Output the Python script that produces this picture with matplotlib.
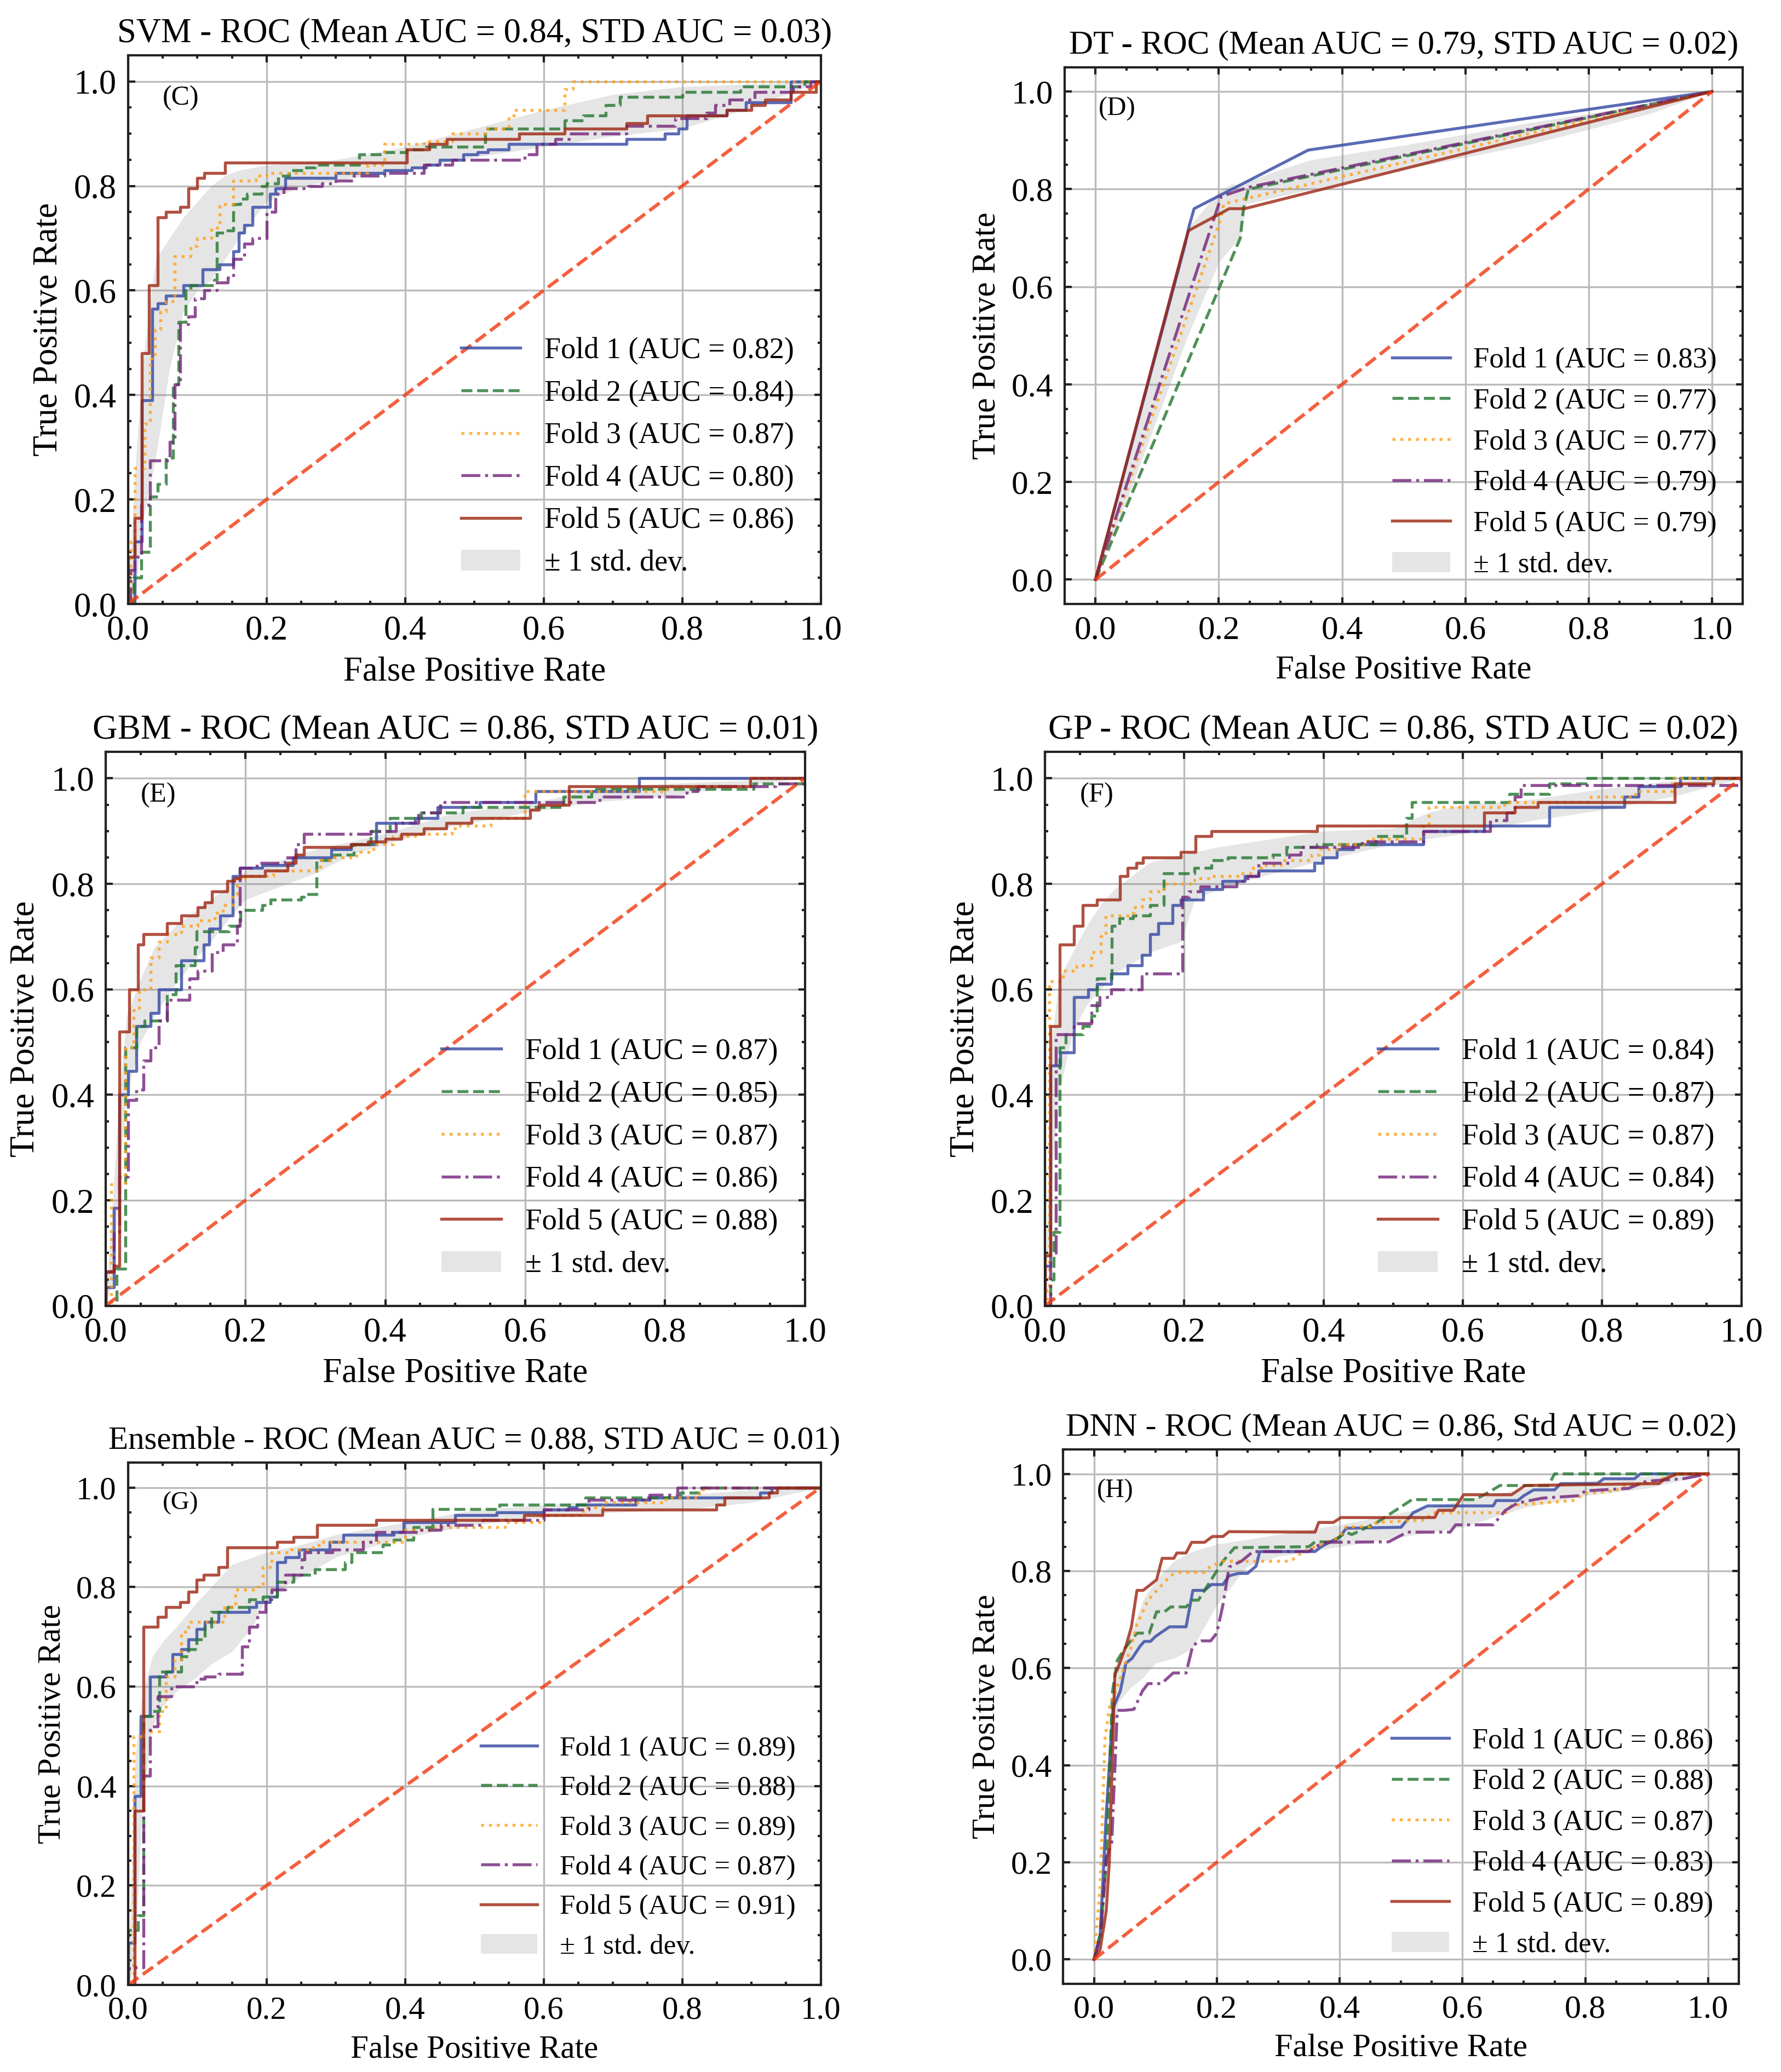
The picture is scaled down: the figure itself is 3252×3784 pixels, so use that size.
import matplotlib
matplotlib.use("Agg")
import matplotlib.pyplot as plt
from matplotlib.ticker import AutoMinorLocator, MultipleLocator

plt.rcParams["font.family"] = ["Liberation Serif", "DejaVu Serif"]
plt.rcParams["mathtext.fontset"] = "stix"

FOLD_COLORS = ["#3246A3", "#23762E", "#FFA019", "#722379", "#9C2410"]
FOLD_STYLES = ["-", "--", ":", "-.", "-"]

# ---------------- SVM (C) ----------------
SVM_AUC = [0.82, 0.84, 0.87, 0.80, 0.86]
SVM_FPR = [
    [0, 0.01, 0.02, 0.035, 0.043, 0.055, 0.08, 0.108, 0.132, 0.152, 0.16, 0.168, 0.18, 0.205, 0.213,
     0.227, 0.30, 0.37, 0.41, 0.43, 0.45, 0.484, 0.505, 0.52, 0.55, 0.72, 0.775, 0.795, 0.807, 0.864,
     0.892, 0.957, 1.0],
    [0, 0.008, 0.019, 0.032, 0.043, 0.055, 0.065, 0.073, 0.083, 0.09, 0.124, 0.128, 0.14, 0.152, 0.162,
     0.172, 0.193, 0.2, 0.217, 0.233, 0.253, 0.27, 0.334, 0.37, 0.403, 0.43, 0.516, 0.63, 0.657, 0.69,
     0.71, 0.8, 0.884, 0.977, 1.0],
    [0, 0.004, 0.01, 0.024, 0.032, 0.039, 0.047, 0.055, 0.067, 0.09, 0.10, 0.12, 0.132, 0.152, 0.184,
     0.2, 0.346, 0.37, 0.427, 0.468, 0.516, 0.55, 0.557, 0.63, 0.642, 1.0],
    [0, 0.003, 0.01, 0.019, 0.032, 0.06, 0.067, 0.075, 0.087, 0.097, 0.11, 0.128, 0.144, 0.152, 0.168,
     0.18, 0.2, 0.213, 0.225, 0.26, 0.28, 0.30, 0.326, 0.37, 0.427, 0.468, 0.573, 0.59, 0.617, 0.637,
     0.72, 0.79, 0.835, 0.848, 0.868, 0.905, 0.96, 0.985, 1.0],
    [0, 0, 0.01, 0.02, 0.03, 0.043, 0.055, 0.075, 0.087, 0.10, 0.11, 0.14, 0.403, 0.435, 0.46, 0.565,
     0.63, 0.72, 0.75, 0.864, 0.90, 0.92, 0.957, 0.993, 1.0],
]
SVM_TPR = [
    [0, 0.12, 0.39, 0.565, 0.575, 0.59, 0.61, 0.64, 0.65, 0.675, 0.71, 0.725, 0.76, 0.785, 0.795,
     0.815, 0.825, 0.83, 0.835, 0.84, 0.85, 0.86, 0.865, 0.87, 0.88, 0.89, 0.90, 0.91, 0.935, 0.945,
     0.96, 1.0, 1.0],
    [0, 0.05, 0.10, 0.205, 0.23, 0.28, 0.42, 0.54, 0.60, 0.61, 0.62, 0.71, 0.715, 0.765, 0.775,
     0.785, 0.80, 0.805, 0.82, 0.83, 0.835, 0.84, 0.86, 0.865, 0.87, 0.875, 0.91, 0.925, 0.935, 0.955,
     0.97, 0.98, 0.99, 1.0, 1.0],
    [0, 0.12, 0.26, 0.345, 0.47, 0.525, 0.56, 0.58, 0.665, 0.685, 0.70, 0.72, 0.765, 0.81, 0.82,
     0.825, 0.84, 0.88, 0.885, 0.90, 0.91, 0.93, 0.945, 0.985, 1.0, 1.0],
    [0, 0.065, 0.09, 0.19, 0.275, 0.31, 0.42, 0.535, 0.55, 0.585, 0.60, 0.615, 0.625, 0.66, 0.69,
     0.70, 0.75, 0.785, 0.795, 0.80, 0.805, 0.81, 0.82, 0.825, 0.84, 0.85, 0.86, 0.88, 0.89, 0.90,
     0.915, 0.93, 0.94, 0.955, 0.965, 0.98, 0.99, 1.0, 1.0],
    [0, 0.09, 0.165, 0.48, 0.61, 0.74, 0.75, 0.76, 0.795, 0.815, 0.825, 0.845, 0.87, 0.88, 0.89, 0.90,
     0.91, 0.92, 0.935, 0.945, 0.955, 0.965, 0.98, 1.0, 1.0],
]
SVM_BAND_X = [0, 0.01, 0.02, 0.04, 0.06, 0.08, 0.10, 0.12, 0.14, 0.16, 0.20, 0.25, 0.30, 0.40, 0.50,
              0.60, 0.70, 0.80, 0.90, 1.0]
SVM_BAND_UP = [0, 0.25, 0.45, 0.66, 0.70, 0.74, 0.77, 0.80, 0.82, 0.83, 0.84, 0.845, 0.85, 0.875, 0.91,
               0.945, 0.975, 0.99, 0.995, 1.0]
SVM_BAND_LO = [0, 0.0, 0.15, 0.28, 0.45, 0.56, 0.60, 0.62, 0.66, 0.70, 0.77, 0.80, 0.81, 0.83, 0.855,
               0.875, 0.895, 0.91, 0.95, 1.0]

# ---------------- DT (D) ----------------
DT_AUC = [0.83, 0.77, 0.77, 0.79, 0.79]
DT_FPR = [
    [0, 0.145, 0.152, 0.16, 0.345, 1.0],
    [0, 0.235, 0.24, 0.248, 1.0],
    [0, 0.204, 0.208, 1.0],
    [0, 0.204, 0.249, 1.0],
    [0, 0.145, 0.151, 0.217, 0.242, 1.0],
]
DT_TPR = [
    [0, 0.685, 0.725, 0.76, 0.88, 1.0],
    [0, 0.70, 0.76, 0.80, 1.0],
    [0, 0.742, 0.77, 1.0],
    [0, 0.785, 0.804, 1.0],
    [0, 0.69, 0.715, 0.76, 0.76, 1.0],
]
DT_BAND_X = [0, 0.05, 0.10, 0.15, 0.20, 0.22, 0.235, 0.245, 0.30, 0.35, 0.50, 0.70, 0.90, 1.0]
DT_BAND_UP = [0, 0.24, 0.48, 0.72, 0.795, 0.81, 0.81, 0.815, 0.84, 0.86, 0.89, 0.935, 0.975, 1.0]
DT_BAND_LO = [0, 0.16, 0.33, 0.50, 0.65, 0.68, 0.70, 0.77, 0.785, 0.80, 0.84, 0.89, 0.955, 1.0]

# ---------------- GBM (E) ----------------
GBM_AUC = [0.87, 0.85, 0.87, 0.86, 0.88]
GBM_FPR = [
    [0, 0, 0.012, 0.02, 0.032, 0.044, 0.064, 0.076, 0.108, 0.14, 0.148, 0.164, 0.182, 0.192, 0.224,
     0.268, 0.323, 0.351, 0.387, 0.443, 0.475, 0.535, 0.615, 0.763, 1.0],
    [0, 0.016, 0.028, 0.044, 0.056, 0.088, 0.10, 0.128, 0.13, 0.176, 0.193, 0.224, 0.236, 0.28, 0.284,
     0.302, 0.327, 0.355, 0.379, 0.407, 0.451, 0.511, 0.655, 0.695, 0.927, 1.0],
    [0, 0.008, 0.028, 0.04, 0.048, 0.064, 0.076, 0.088, 0.108, 0.132, 0.156, 0.168, 0.182, 0.188, 0.20,
     0.24, 0.307, 0.327, 0.359, 0.383, 0.411, 0.443, 0.495, 0.50, 0.551, 0.599, 0.803, 0.922, 1.0],
    [0, 0, 0.012, 0.02, 0.032, 0.044, 0.054, 0.064, 0.076, 0.088, 0.12, 0.132, 0.152, 0.168, 0.188,
     0.192, 0.216, 0.256, 0.272, 0.284, 0.379, 0.415, 0.447, 0.479, 0.707, 0.831, 0.847, 0.958, 1.0],
    [0, 0, 0.012, 0.02, 0.034, 0.046, 0.054, 0.088, 0.108, 0.132, 0.142, 0.152, 0.174, 0.184, 0.193,
     0.228, 0.26, 0.272, 0.284, 0.351, 0.375, 0.40, 0.423, 0.455, 0.487, 0.523, 0.607, 0.62, 0.663,
     0.922, 1.0],
]
GBM_TPR = [
    [0, 0.035, 0.185, 0.40, 0.445, 0.53, 0.555, 0.60, 0.655, 0.685, 0.715, 0.74, 0.815, 0.83, 0.835,
     0.85, 0.865, 0.875, 0.915, 0.925, 0.945, 0.955, 0.975, 1.0, 1.0],
    [0, 0.07, 0.49, 0.53, 0.54, 0.59, 0.645, 0.68, 0.71, 0.72, 0.75, 0.76, 0.77, 0.775, 0.78, 0.845,
     0.855, 0.875, 0.90, 0.925, 0.935, 0.945, 0.965, 0.98, 0.99, 1.0],
    [0, 0.23, 0.49, 0.56, 0.60, 0.66, 0.69, 0.705, 0.72, 0.73, 0.745, 0.76, 0.78, 0.81, 0.815, 0.825,
     0.845, 0.85, 0.86, 0.875, 0.89, 0.895, 0.905, 0.91, 0.925, 0.975, 0.985, 1.0, 1.0],
    [0, 0.065, 0.14, 0.245, 0.39, 0.41, 0.465, 0.49, 0.54, 0.58, 0.62, 0.635, 0.67, 0.685, 0.72, 0.83,
     0.84, 0.85, 0.875, 0.895, 0.90, 0.915, 0.935, 0.955, 0.965, 0.975, 0.985, 0.99, 1.0],
    [0, 0.064, 0.075, 0.52, 0.60, 0.685, 0.705, 0.725, 0.74, 0.755, 0.765, 0.785, 0.805, 0.81, 0.815,
     0.825, 0.84, 0.855, 0.87, 0.875, 0.88, 0.885, 0.895, 0.905, 0.915, 0.925, 0.94, 0.95, 0.985,
     1.0, 1.0],
]
GBM_BAND_X = [0, 0.01, 0.02, 0.03, 0.05, 0.07, 0.10, 0.13, 0.15, 0.18, 0.20, 0.25, 0.30, 0.35, 0.40,
              0.45, 0.50, 0.60, 0.70, 0.80, 0.90, 1.0]
GBM_BAND_UP = [0, 0.20, 0.40, 0.55, 0.62, 0.68, 0.72, 0.75, 0.77, 0.80, 0.825, 0.845, 0.865, 0.88, 0.895,
               0.915, 0.935, 0.95, 0.98, 0.99, 0.995, 1.0]
GBM_BAND_LO = [0, 0.05, 0.25, 0.40, 0.50, 0.55, 0.61, 0.66, 0.69, 0.74, 0.77, 0.795, 0.82, 0.855, 0.875,
               0.895, 0.91, 0.935, 0.955, 0.965, 0.985, 1.0]

# ---------------- GP (F) ----------------
GP_AUC = [0.84, 0.87, 0.87, 0.84, 0.89]
GP_FPR = [
    [0, 0, 0.008, 0.022, 0.042, 0.062, 0.075, 0.095, 0.119, 0.139, 0.151, 0.163, 0.183, 0.195, 0.227,
     0.255, 0.287, 0.307, 0.387, 0.399, 0.419, 0.443, 0.543, 0.631, 0.724, 0.832, 0.852, 0.912, 1.0],
    [0, 0.008, 0.013, 0.021, 0.03, 0.054, 0.067, 0.075, 0.096, 0.107, 0.127, 0.151, 0.171, 0.215, 0.239,
     0.263, 0.327, 0.347, 0.391, 0.475, 0.519, 0.527, 0.667, 0.724, 0.776, 1.0],
    [0, 0.003, 0.006, 0.026, 0.046, 0.067, 0.08, 0.087, 0.127, 0.139, 0.151, 0.171, 0.215, 0.239, 0.279,
     0.299, 0.311, 0.339, 0.383, 0.395, 0.423, 0.463, 0.543, 0.551, 0.66, 0.784, 0.848, 0.90, 1.0],
    [0, 0.008, 0.016, 0.042, 0.067, 0.079, 0.095, 0.139, 0.143, 0.195, 0.197, 0.207, 0.223, 0.275, 0.291,
     0.307, 0.351, 0.367, 0.455, 0.543, 0.639, 0.663, 0.675, 0.683, 1.0],
    [0, 0, 0.008, 0.021, 0.042, 0.054, 0.075, 0.108, 0.119, 0.131, 0.141, 0.195, 0.216, 0.239, 0.391,
     0.631, 0.675, 0.708, 0.904, 0.96, 1.0],
]
GP_TPR = [
    [0, 0.075, 0.455, 0.48, 0.585, 0.60, 0.61, 0.63, 0.645, 0.665, 0.705, 0.725, 0.76, 0.77, 0.79,
     0.805, 0.815, 0.825, 0.84, 0.85, 0.865, 0.875, 0.90, 0.91, 0.945, 0.965, 0.985, 1.0, 1.0],
    [0, 0.05, 0.14, 0.49, 0.515, 0.53, 0.55, 0.62, 0.72, 0.735, 0.74, 0.76, 0.82, 0.83, 0.845, 0.85,
     0.855, 0.87, 0.875, 0.89, 0.925, 0.955, 0.97, 0.99, 1.0, 1.0],
    [0, 0.03, 0.615, 0.635, 0.645, 0.67, 0.70, 0.74, 0.755, 0.77, 0.785, 0.80, 0.81, 0.815, 0.82, 0.83,
     0.835, 0.845, 0.855, 0.865, 0.875, 0.885, 0.91, 0.945, 0.955, 0.965, 0.975, 1.0, 1.0],
    [0, 0.10, 0.515, 0.535, 0.57, 0.585, 0.60, 0.625, 0.63, 0.635, 0.775, 0.785, 0.795, 0.805, 0.815,
     0.84, 0.855, 0.87, 0.88, 0.90, 0.92, 0.935, 0.965, 0.987, 1.0],
    [0, 0.095, 0.53, 0.685, 0.72, 0.76, 0.77, 0.815, 0.83, 0.84, 0.85, 0.86, 0.89, 0.90, 0.91, 0.935,
     0.945, 0.955, 0.99, 1.0, 1.0],
]
GP_BAND_X = [0, 0.01, 0.02, 0.04, 0.06, 0.08, 0.10, 0.12, 0.15, 0.195, 0.215, 0.25, 0.30, 0.40, 0.50,
             0.55, 0.60, 0.70, 0.80, 0.90, 1.0]
GP_BAND_UP = [0, 0.50, 0.62, 0.67, 0.72, 0.76, 0.79, 0.81, 0.84, 0.855, 0.86, 0.87, 0.88, 0.90, 0.905,
              0.935, 0.95, 0.96, 0.98, 0.995, 1.0]
GP_BAND_LO = [0, 0.25, 0.40, 0.52, 0.57, 0.60, 0.63, 0.645, 0.67, 0.69, 0.77, 0.79, 0.81, 0.845, 0.875,
              0.885, 0.895, 0.92, 0.94, 0.965, 1.0]

# ---------------- Ensemble (G) ----------------
ENS_AUC = [0.89, 0.88, 0.89, 0.87, 0.91]
ENS_FPR = [
    [0, 0, 0.01, 0.018, 0.032, 0.055, 0.064, 0.077, 0.087, 0.099, 0.111, 0.131, 0.175, 0.185, 0.205,
     0.215, 0.227, 0.247, 0.291, 0.311, 0.384, 0.398, 0.472, 0.532, 0.60, 0.636, 0.648, 0.733, 0.753,
     0.913, 0.929, 1.0],
    [0, 0, 0.014, 0.022, 0.035, 0.045, 0.063, 0.077, 0.087, 0.099, 0.111, 0.12, 0.143, 0.175, 0.195,
     0.215, 0.239, 0.27, 0.313, 0.323, 0.368, 0.384, 0.412, 0.44, 0.536, 0.66, 0.797, 0.829, 1.0],
    [0, 0.008, 0.022, 0.045, 0.055, 0.067, 0.077, 0.087, 0.139, 0.155, 0.187, 0.195, 0.207, 0.235, 0.263,
     0.275, 0.40, 0.444, 0.544, 0.596, 0.657, 0.685, 0.777, 0.825, 0.83, 1.0],
    [0, 0, 0.008, 0.022, 0.032, 0.043, 0.063, 0.099, 0.111, 0.131, 0.165, 0.175, 0.187, 0.199, 0.207,
     0.227, 0.251, 0.255, 0.295, 0.339, 0.358, 0.42, 0.452, 0.512, 0.60, 0.665, 0.753, 0.793, 1.0],
    [0, 0.01, 0.022, 0.043, 0.055, 0.075, 0.087, 0.099, 0.109, 0.131, 0.143, 0.215, 0.239, 0.273, 0.358,
     0.572, 0.685, 0.849, 0.861, 0.925, 0.937, 1.0],
]
ENS_TPR = [
    [0, 0.085, 0.38, 0.54, 0.62, 0.63, 0.665, 0.675, 0.695, 0.715, 0.73, 0.75, 0.76, 0.77, 0.78, 0.85,
     0.86, 0.875, 0.89, 0.905, 0.91, 0.93, 0.945, 0.95, 0.955, 0.96, 0.965, 0.975, 0.98, 0.99, 1.0, 1.0],
    [0, 0.11, 0.14, 0.54, 0.55, 0.63, 0.63, 0.66, 0.675, 0.695, 0.72, 0.75, 0.76, 0.775, 0.78, 0.81,
     0.825, 0.835, 0.85, 0.87, 0.885, 0.895, 0.92, 0.957, 0.965, 0.98, 0.99, 1.0, 1.0],
    [0, 0.50, 0.51, 0.55, 0.62, 0.655, 0.71, 0.73, 0.76, 0.795, 0.80, 0.84, 0.87, 0.875, 0.88, 0.89,
     0.915, 0.92, 0.93, 0.945, 0.96, 0.97, 0.98, 0.99, 1.0, 1.0],
    [0, 0.033, 0.035, 0.42, 0.52, 0.58, 0.60, 0.615, 0.62, 0.625, 0.68, 0.72, 0.75, 0.775, 0.795, 0.825,
     0.855, 0.87, 0.875, 0.89, 0.91, 0.915, 0.925, 0.935, 0.955, 0.975, 0.985, 1.0, 1.0],
    [0, 0.35, 0.72, 0.74, 0.76, 0.77, 0.79, 0.815, 0.825, 0.84, 0.88, 0.89, 0.90, 0.925, 0.935, 0.945,
     0.955, 0.965, 0.98, 0.99, 1.0, 1.0],
]
ENS_BAND_X = [0, 0.01, 0.02, 0.035, 0.05, 0.07, 0.10, 0.12, 0.15, 0.18, 0.20, 0.25, 0.30, 0.40, 0.50,
              0.60, 0.70, 0.80, 0.90, 1.0]
ENS_BAND_UP = [0, 0.45, 0.58, 0.66, 0.69, 0.72, 0.77, 0.80, 0.845, 0.86, 0.87, 0.885, 0.905, 0.93, 0.955,
               0.965, 0.975, 0.985, 0.995, 1.0]
ENS_BAND_LO = [0, 0.05, 0.35, 0.52, 0.56, 0.59, 0.62, 0.645, 0.67, 0.72, 0.78, 0.82, 0.86, 0.90, 0.925,
               0.94, 0.95, 0.955, 0.97, 1.0]

# ---------------- DNN (H) ----------------
DNN_AUC = [0.86, 0.88, 0.87, 0.83, 0.89]
DNN_FPR = [
    [0, 0.01, 0.02, 0.031, 0.043, 0.052, 0.062, 0.075, 0.082, 0.092, 0.10, 0.123, 0.15, 0.161, 0.18,
     0.191, 0.21, 0.22, 0.235, 0.25, 0.264, 0.27, 0.36, 0.37, 0.40, 0.411, 0.50, 0.52, 0.543, 0.65,
     0.655, 0.69, 0.70, 0.716, 0.75, 0.76, 0.82, 0.83, 0.88, 0.89, 1.0],
    [0, 0.01, 0.02, 0.03, 0.038, 0.05, 0.07, 0.09, 0.102, 0.115, 0.125, 0.15, 0.161, 0.17, 0.20, 0.21,
     0.229, 0.35, 0.36, 0.39, 0.41, 0.42, 0.461, 0.518, 0.62, 0.64, 0.661, 0.74, 0.75, 1.0],
    [0, 0.01, 0.018, 0.025, 0.038, 0.05, 0.06, 0.07, 0.088, 0.11, 0.125, 0.138, 0.18, 0.19, 0.211, 0.32,
     0.341, 0.37, 0.40, 0.411, 0.45, 0.46, 0.54, 0.55, 0.67, 0.68, 0.78, 0.80, 0.85, 0.86, 0.90, 0.95,
     1.0],
    [0, 0.011, 0.02, 0.029, 0.038, 0.05, 0.065, 0.079, 0.088, 0.11, 0.129, 0.15, 0.161, 0.175, 0.19,
     0.20, 0.21, 0.22, 0.24, 0.259, 0.35, 0.36, 0.379, 0.48, 0.51, 0.543, 0.58, 0.589, 0.65, 0.67,
     0.69, 0.73, 0.79, 0.80, 0.87, 0.90, 0.96, 1.0],
    [0, 0.01, 0.02, 0.025, 0.034, 0.038, 0.052, 0.061, 0.07, 0.08, 0.102, 0.111, 0.13, 0.135, 0.15,
     0.159, 0.18, 0.193, 0.21, 0.22, 0.36, 0.366, 0.39, 0.402, 0.555, 0.561, 0.585, 0.602, 0.68, 0.702,
     0.92, 0.93, 0.95, 1.0],
]
DNN_TPR = [
    [0, 0.05, 0.30, 0.517, 0.553, 0.61, 0.62, 0.645, 0.655, 0.655, 0.665, 0.685, 0.685, 0.76, 0.76,
     0.772, 0.772, 0.79, 0.795, 0.795, 0.81, 0.84, 0.84, 0.85, 0.87, 0.888, 0.89, 0.92, 0.934, 0.934,
     0.945, 0.945, 0.955, 0.967, 0.967, 0.98, 0.98, 0.99, 0.99, 1.0, 1.0],
    [0, 0.05, 0.20, 0.55, 0.616, 0.64, 0.672, 0.672, 0.716, 0.716, 0.726, 0.726, 0.74, 0.74, 0.80, 0.82,
     0.848, 0.85, 0.86, 0.86, 0.88, 0.875, 0.90, 0.947, 0.947, 0.96, 0.976, 0.976, 1.0, 1.0],
    [0, 0.15, 0.455, 0.52, 0.561, 0.605, 0.64, 0.69, 0.74, 0.77, 0.791, 0.797, 0.797, 0.81, 0.82, 0.82,
     0.84, 0.855, 0.87, 0.891, 0.891, 0.90, 0.905, 0.92, 0.92, 0.935, 0.945, 0.96, 0.965, 0.975, 0.98,
     1.0, 1.0],
    [0, 0.05, 0.208, 0.241, 0.513, 0.513, 0.515, 0.553, 0.568, 0.568, 0.59, 0.59, 0.647, 0.656, 0.656,
     0.672, 0.73, 0.808, 0.82, 0.84, 0.84, 0.85, 0.859, 0.86, 0.88, 0.88, 0.88, 0.895, 0.895, 0.925,
     0.94, 0.95, 0.955, 0.965, 0.97, 0.985, 0.99, 1.0],
    [0, 0.02, 0.10, 0.20, 0.588, 0.597, 0.645, 0.685, 0.76, 0.76, 0.782, 0.826, 0.826, 0.837, 0.837,
     0.859, 0.859, 0.871, 0.871, 0.881, 0.88, 0.90, 0.90, 0.91, 0.91, 0.925, 0.925, 0.957, 0.957, 0.976,
     0.98, 0.99, 1.0, 1.0],
]
DNN_BAND_X = [0, 0.01, 0.02, 0.03, 0.04, 0.06, 0.08, 0.10, 0.13, 0.16, 0.20, 0.25, 0.30, 0.40, 0.50,
              0.60, 0.70, 0.80, 0.90, 1.0]
DNN_BAND_UP = [0, 0.06, 0.30, 0.57, 0.62, 0.67, 0.74, 0.78, 0.82, 0.84, 0.855, 0.865, 0.875, 0.895, 0.92,
               0.945, 0.97, 0.985, 0.995, 1.0]
DNN_BAND_LO = [0, 0.03, 0.15, 0.43, 0.53, 0.56, 0.58, 0.61, 0.62, 0.64, 0.73, 0.81, 0.83, 0.85, 0.87,
               0.89, 0.93, 0.955, 0.97, 1.0]


def draw_panel(ax, title, letter, fpr, tpr, aucs, band_x, band_up, band_lo, steps, margins, s=1.0):
    # s: text scale of this panel (the sub-figures were pasted at slightly different sizes)
    for i in range(5):
        ax.plot(fpr[i], tpr[i], color=FOLD_COLORS[i], linestyle=FOLD_STYLES[i], lw=1.3, alpha=0.8,
                drawstyle="steps-post" if steps else "default",
                label=f"Fold {i + 1} (AUC = {aucs[i]:.2f})")
    ax.plot([0, 1], [0, 1], linestyle="--", color="#F1380F", lw=1.5, alpha=0.8)
    ax.fill_between(band_x, band_lo, band_up, color="grey", alpha=0.2, lw=0,
                    label="± 1 std. dev.")
    if margins:
        ax.set_xlim(-0.05, 1.05)
        ax.set_ylim(-0.05, 1.05)
    else:
        ax.set_xlim(0, 1.0)
        ax.set_ylim(0, 1.05)
    ax.set_title(title, fontsize=15 * s)
    ax.set_xlabel("False Positive Rate", fontsize=15 * s)
    ax.set_ylabel("True Positive Rate", fontsize=15 * s)
    ax.xaxis.set_major_locator(MultipleLocator(0.2))
    ax.yaxis.set_major_locator(MultipleLocator(0.2))
    ax.xaxis.set_minor_locator(AutoMinorLocator(4))
    ax.yaxis.set_minor_locator(AutoMinorLocator(4))
    ax.tick_params(which="both", direction="in", top=True, right=True, labelsize=15 * s, width=1.0,
                   color="#222222")
    ax.tick_params(which="major", length=3.0, pad=5)
    ax.tick_params(which="minor", length=1.5)
    for sp in ax.spines.values():
        sp.set_linewidth(1.0)
        sp.set_color("#222222")
    ax.grid(True, which="major", color="#BBBBBB", lw=0.8)
    ax.set_axisbelow(True)
    ax.text(0.05, 0.945, letter, transform=ax.transAxes, fontsize=12 * s, va="top", ha="left")
    ax.legend(loc="lower right", frameon=False, fontsize=13 * s, labelspacing=0.5,
              handlelength=2.0, handletextpad=0.8)


fig = plt.figure(figsize=(3252 / 300, 3784 / 300), dpi=300)

ax_c = fig.add_axes([0.0719, 0.7085, 0.3889, 0.2648])
draw_panel(ax_c, "SVM - ROC (Mean AUC = 0.84, STD AUC = 0.03)", "(C)", SVM_FPR, SVM_TPR, SVM_AUC,
           SVM_BAND_X, SVM_BAND_UP, SVM_BAND_LO, steps=True, margins=False, s=1.0)

ax_d = fig.add_axes([0.5978, 0.7085, 0.3807, 0.2591])
draw_panel(ax_d, "DT - ROC (Mean AUC = 0.79, STD AUC = 0.02)", "(D)", DT_FPR, DT_TPR, DT_AUC,
           DT_BAND_X, DT_BAND_UP, DT_BAND_LO, steps=False, margins=True, s=0.975)

ax_e = fig.add_axes([0.0593, 0.3698, 0.3926, 0.2673])
draw_panel(ax_e, "GBM - ROC (Mean AUC = 0.86, STD AUC = 0.01)", "(E)", GBM_FPR, GBM_TPR, GBM_AUC,
           GBM_BAND_X, GBM_BAND_UP, GBM_BAND_LO, steps=True, margins=False, s=1.01)

ax_f = fig.add_axes([0.5867, 0.3698, 0.3911, 0.2673])
draw_panel(ax_f, "GP - ROC (Mean AUC = 0.86, STD AUC = 0.02)", "(F)", GP_FPR, GP_TPR, GP_AUC,
           GP_BAND_X, GP_BAND_UP, GP_BAND_LO, steps=True, margins=False, s=1.01)

ax_g = fig.add_axes([0.0719, 0.0420, 0.3889, 0.2521])
draw_panel(ax_g, "Ensemble - ROC (Mean AUC = 0.88, STD AUC = 0.01)", "(G)", ENS_FPR, ENS_TPR, ENS_AUC,
           ENS_BAND_X, ENS_BAND_UP, ENS_BAND_LO, steps=True, margins=False, s=0.945)

ax_h = fig.add_axes([0.5970, 0.0426, 0.3793, 0.2578])
draw_panel(ax_h, "DNN - ROC (Mean AUC = 0.86, Std AUC = 0.02)", "(H)", DNN_FPR, DNN_TPR, DNN_AUC,
           DNN_BAND_X, DNN_BAND_UP, DNN_BAND_LO, steps=False, margins=True, s=0.965)

fig.savefig("out.png", dpi=300)
